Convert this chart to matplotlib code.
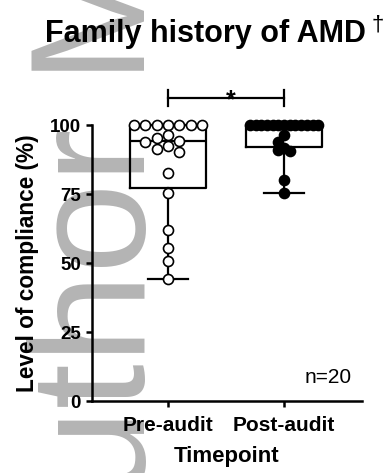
import numpy as np
import matplotlib
matplotlib.use("Agg")
import matplotlib.pyplot as plt

plt.rcParams['font.family'] = ['Liberation Sans', 'DejaVu Sans']

# ---- data -------------------------------------------------------------
categories = ["Pre-audit", "Post-audit"]
pre_audit = [100, 100, 100, 100, 100, 100, 100,
             96.4, 95.4, 94.3, 94.0, 92.4, 91.2, 90.3,
             82.7, 75.5, 62.0, 55.3, 50.7, 44.1]
post_audit = [100, 100, 100, 100, 100, 100, 100, 100, 100, 100, 100, 100, 100,
              96.5, 94.0, 91.5, 91.0, 90.5, 80.0, 75.5]
y_ticks = [0, 25, 50, 75, 100]
title_text = "Family history of AMD"
title_mark = "\u2020"
sample_note = "n=20"
signif_label = "*"
watermark = "Author Manuscript"

# ---- figure -------------------------------------------------------------
W, H, DPI = 386, 473, 100
fig = plt.figure(figsize=(W / DPI, H / DPI), dpi=DPI)
fig.patch.set_facecolor("white")
ax = fig.add_axes([92 / W, 1 - 401 / H, (362 - 92) / W, (401 - 125) / H])
ax.set_facecolor("none")

# light grey manuscript stamp running up the left side, behind everything
fig.text(145 / W, 1 - 607 / H, watermark, rotation=90, rotation_mode="anchor",
         ha="left", va="baseline", fontsize=117, color="#b4b4b4", zorder=-5)

positions = np.arange(len(categories))
ax.set_xlim(-0.655, 1.672)
ax.set_ylim(0, 100)

# ---- box and whiskers (min to max) -----------------------------------
def box_stats(vals):
    v = np.asarray(vals, float)
    q1, med, q3 = np.percentile(v, [25, 50, 75], method="weibull")
    return dict(med=med, q1=q1, q3=q3, whislo=v.min(), whishi=v.max(), fliers=[])

box_w = 0.655
lw_box = 1.6
art = ax.bxp([box_stats(pre_audit), box_stats(post_audit)], positions=positions,
             widths=box_w, capwidths=0.345, showfliers=False,
             boxprops=dict(color="k", lw=lw_box),
             medianprops=dict(color="k", lw=lw_box),
             whiskerprops=dict(color="k", lw=lw_box),
             capprops=dict(color="k", lw=lw_box))
for group in art.values():
    for a in group:
        a.set_clip_on(False)
        a.set_zorder(2)

# ---- scatter points laid out in rows ------------------------------------
ms, mew = 7.2, 1.2
p0, p1 = ax.transData.transform([(0, 0), (1, 1)])
px_x, px_y = p1 - p0
d_px = (ms + mew) * DPI / 72


def row_offsets(vals):
    """Group close values into rows and spread each row sideways."""
    vals = np.asarray(vals, float)
    order = np.argsort(-vals, kind="stable")
    rows = []
    for i in order:
        if rows and (vals[rows[-1][0]] - vals[i]) * px_y < 0.8 * d_px:
            rows[-1].append(i)
        else:
            rows.append([i])
    kmax = max(len(r) for r in rows)
    half = 0.45 * box_w * px_x
    step = d_px if kmax == 1 else min(d_px, 2 * half / (kmax - 1))
    offs = np.zeros(len(vals))
    for r in rows:
        k = len(r)
        if np.all(vals[r] == vals[r[0]]):
            slots = np.arange(k) - (k - 1) / 2
        else:
            seq = [0]
            n = 1
            while len(seq) < k:
                seq += [-n, n]
                n += 1
            slots = seq[:k]
        for j, s in zip(r, slots):
            offs[j] = s * step / px_x
    return offs


for pos, vals, face in [(positions[0], pre_audit, "white"),
                        (positions[1], post_audit, "black")]:
    xs = pos + row_offsets(vals)
    ax.plot(xs, vals, ls="none", marker="o", ms=ms, mew=mew, mfc=face,
            mec="black", clip_on=False, zorder=3)

# ---- significance bracket ----------------------------------------------
yb, tick = 109.8, 2.9
ax.plot([positions[0], positions[1]], [yb, yb], color="k", lw=lw_box, clip_on=False)
for p in positions:
    ax.plot([p, p], [yb - tick, yb + tick], color="k", lw=lw_box, clip_on=False)
ax.text(0.54, 106.5, signif_label, ha="center", va="baseline", fontsize=18,
        fontweight="bold")

# ---- axes styling ----------------------------------------------------------
for s in ["top", "right"]:
    ax.spines[s].set_visible(False)
for s in ["left", "bottom"]:
    ax.spines[s].set_linewidth(1.8)
ax.tick_params(direction="out", length=4.5, width=1.8, color="k")
ax.tick_params(axis="y", pad=3.5, labelsize=13.5)
ax.tick_params(axis="x", pad=6, labelsize=15)
ax.set_yticks(y_ticks)
ax.set_yticklabels([str(t) for t in y_ticks], fontweight="bold")
ax.set_xticks(positions)
ax.set_xticklabels(categories, fontweight="bold")

ax.set_xlabel("Timepoint", fontsize=16, fontweight="bold", labelpad=8)
ax.set_ylabel("Level of compliance (%)", fontsize=16.3, fontweight="bold", labelpad=8)

fig.text(45 / W, 1 - 42 / H, title_text, ha="left", va="baseline",
         fontsize=22, fontweight="bold")
fig.text(372 / W, 1 - 15 / H, title_mark, ha="left", va="top", fontsize=16)
fig.text(352 / W, 1 - 383 / H, sample_note, ha="right", va="baseline", fontsize=15)

fig.savefig("out.png", dpi=DPI, facecolor="white")
